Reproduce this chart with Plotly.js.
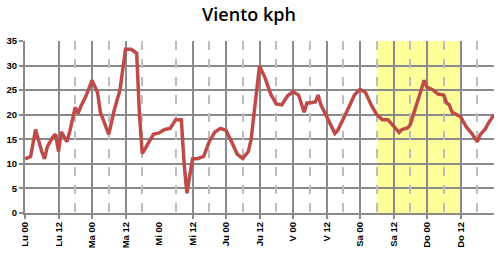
<!DOCTYPE html>
<html><head><meta charset="utf-8">
<script src="https://cdn.plot.ly/plotly-3.0.1.min.js"></script>
<style>html,body{margin:0;padding:0;background:#fff}#c{width:498px;height:259px}</style>
</head><body><div id="c"></div>
<script>
// hours since Monday 00:00
const hours = [0,2,3.8,4,6,7,8,10,11,12,13,14,15,16,18,19,20,22,24,26,27,28,30,32,34,36,38,40,41,42,44,46,48,50,52,54,56,57,58,60,62,64,66,68,70,72,74,76,78,80,81,82,83,84,86,88,90,92,94,96,98,100,101,102,104,105,106,108,110,111,112,114,116,118,120,122,124,126,128,130,132,134,135,137,138,140,142,143,144,146,148,150,151,152,153,155,156,158,160,162,163,165,166,168];
const viento = [11,11.5,17,16.5,12.5,11,13.5,15.5,16,12.5,16.5,15.5,14.5,16.5,21.5,20.3,21.7,24,27,24.5,20.5,19,16,21,25,33.3,33.3,32.5,20,12.1,14,16,16.3,17,17.2,19,19,10,4,11,11.1,11.5,14.5,16.5,17.2,16.8,14.5,12,11.1,12.5,15,20,26,29.9,27.5,24.2,22.2,22,23.8,24.7,24,20.5,22.4,22.4,22.6,24,22,19.8,17.5,16.2,16.8,19,21.5,24,25.2,24.5,22,20,19,19,17.6,16.4,17,17.3,18,21.5,25,27,25.6,25.1,24.2,24,22.4,22,20.5,20,19.6,17.6,16.2,14.5,15.9,17.2,18.3,20];
const tickHours = [0,12,24,36,48,60,72,84,96,108,120,132,144,156];
const tickLabels = ["Lu 00","Lu 12","Ma 00","Ma 12","Mi 00","Mi 12","Ju 00","Ju 12","V 00","V 12","Sa 00","Sa 12","Do 00","Do 12"];
const solidGridHours = [0,12,24,36,60,72,84,96,108,120,132,144,156];
const dashGridHours = [18,30,42,54,66,78,90,102,114,126,138,150,162];
const weekend = [126,156];

const lab = {family:"Arial, Liberation Sans", size:9.5, color:"#000", weight:"bold"};
const trace = {x:hours, y:viento, type:"scatter", mode:"lines",
  line:{color:"#be4b48", width:3.5}, hoverinfo:"skip", showlegend:false};
const dummy2 = {x:[0], y:[0], xaxis:"x2", type:"scatter", mode:"markers", marker:{opacity:0}, showlegend:false, hoverinfo:"skip"};
const dummy3 = {x:[0], y:[0], xaxis:"x3", type:"scatter", mode:"markers", marker:{opacity:0}, showlegend:false, hoverinfo:"skip"};

const layout = {
  width:498, height:259,
  margin:{l:25, r:4, t:41, b:46},
  paper_bgcolor:"#fff", plot_bgcolor:"rgba(0,0,0,0)",
  title:{text:"Viento kph", x:0.5, xanchor:"center", y:0.945, yanchor:"middle",
    font:{family:"Open Sans, Liberation Sans", size:18, color:"#000", weight:600}},
  xaxis:{range:[0,168], tickvals:solidGridHours, showticklabels:false,
    showgrid:true, gridcolor:"#8a8a8a", gridwidth:2,
    ticks:"outside", ticklen:4, tickwidth:2, tickcolor:"#8a8a8a",
    showline:true, linecolor:"#8a8a8a", linewidth:2, zeroline:false, fixedrange:true},
  xaxis2:{range:[0,168], overlaying:"x", side:"bottom", tickvals:tickHours, ticktext:tickLabels,
    tickangle:-90, tickfont:lab, ticks:"", ticklabelstandoff:6, showgrid:false, showline:false, zeroline:false, fixedrange:true},
  xaxis3:{range:[0,168], overlaying:"x", side:"bottom", tickvals:dashGridHours, showticklabels:false,
    ticks:"", showgrid:true, gridcolor:"#bdbdbd", gridwidth:2, griddash:"dash",
    showline:false, zeroline:false, fixedrange:true},
  yaxis:{range:[0,35], dtick:5, tick0:0, showgrid:true, gridcolor:"#8a8a8a", gridwidth:2,
    ticks:"outside", ticklen:4, tickwidth:2, tickcolor:"#8a8a8a", tickfont:lab,
    showline:true, linecolor:"#8a8a8a", linewidth:2, zeroline:false, fixedrange:true},
  shapes:[{type:"rect", xref:"x", yref:"paper", x0:weekend[0], x1:weekend[1], y0:0, y1:1,
    fillcolor:"#ffff99", line:{width:0}, layer:"below"}]
};
Plotly.newPlot("c", [dummy2, dummy3, trace], layout, {staticPlot:true, displayModeBar:false});
</script></body></html>
